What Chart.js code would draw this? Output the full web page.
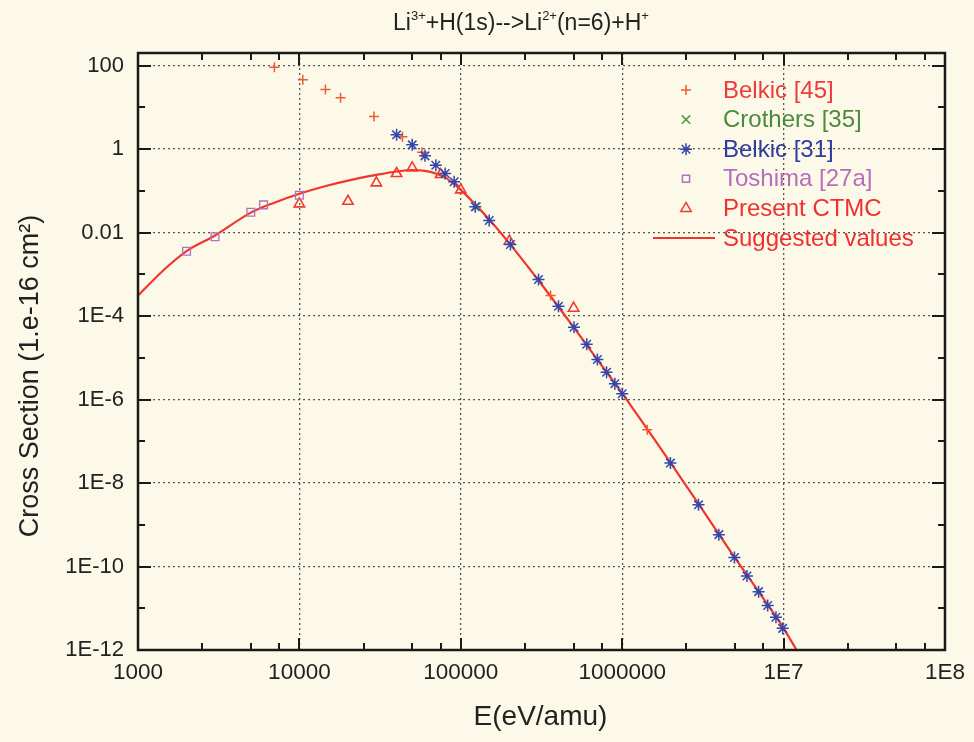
<!DOCTYPE html>
<html>
<head>
<meta charset="utf-8">
<script src="https://cdn.jsdelivr.net/npm/chart.js@4.4.1/dist/chart.umd.min.js"></script>
<style>
    body { margin: 0; background: #fdf9e9; overflow: hidden; }
    #wrap { position: relative; width: 974px; height: 742px; }
    #title {
        position: absolute; top: 9px; left: 0; width: 1042px; text-align: center;
        font: 23px "Liberation Sans", Arial, sans-serif; color: #222;
    }
    #title sup { font-size: 13px; vertical-align: 10px; line-height: 0; }
</style>
</head>
<body>
<div id="wrap">
    <div id="title">Li<sup>3+</sup>+H(1s)--&gt;Li<sup>2+</sup>(n=6)+H<sup>+</sup></div>
    <canvas id="chart" width="974" height="742"></canvas>
</div>
<script>
// axis ticks
const xTickValues = [1e3, 1e4, 1e5, 1e6, 1e7, 1e8];
const xTickLabels = ['1000', '10000', '100000', '1000000', '1E7', '1E8'];
const yTickValues = [1e-12, 1e-10, 1e-8, 1e-6, 1e-4, 1e-2, 1, 100];
const yTickLabels = ['1E-12', '1E-10', '1E-8', '1E-6', '1E-4', '0.01', '1', '100'];

// Belkic [45]
const belkic45E = [7000, 10500, 14500, 18000, 29000, 43500, 57500, 360000, 1430000];
const belkic45S = [91, 46, 26.6, 17, 6.0, 1.96, 0.84, 3.1e-4, 1.9e-7];

// Crothers [35]
const crothersE = [125000];
const crothersS = [0.042];

// Belkic [31]
const belkic31E = [40000, 50000, 60000, 70000, 80000, 91000, 123000, 150000, 203000, 303000,
    403000, 503000, 603000, 702000, 800000, 901000, 1000000, 1990000, 2970000, 3970000,
    4960000, 5930000, 7000000, 7970000, 8970000, 9870000];
const belkic31S = [2.19, 1.26, 0.687, 0.41, 0.259, 0.164, 0.0413, 0.0194, 0.00516, 7.5e-4,
    1.72e-4, 5.4e-5, 2.1e-5, 9.1e-6, 4.5e-6, 2.4e-6, 1.37e-6, 3.0e-8, 3.0e-9, 5.8e-10,
    1.64e-10, 5.9e-11, 2.5e-11, 1.16e-11, 6.1e-12, 3.3e-12];

// Toshima [27a]
const toshimaE = [2000, 3000, 5000, 6000, 10000];
const toshimaS = [3.57e-3, 7.9e-3, 0.0307, 0.046, 0.078];

// Present CTMC
const ctmcE = [10000, 20000, 30000, 40000, 50000, 75000, 100000, 200000, 500000];
const ctmcS = [0.0487, 0.056, 0.155, 0.26, 0.354, 0.245, 0.105, 6.2e-3, 1.54e-4];

// Suggested values
const suggestedE = [1000, 1500, 2000, 3000, 5000, 7000, 10000, 15000, 20000, 30000, 40000,
    50000, 60000, 70000, 80000, 90000, 100000, 150000, 200000, 300000, 500000, 700000,
    1e6, 2e6, 3e6, 5e6, 7e6, 1e7, 1.3e7];
const suggestedS = [3.1e-4, 1.45e-3, 3.6e-3, 8.5e-3, 0.03, 0.052, 0.085, 0.134, 0.176, 0.24, 0.29,
    0.315, 0.3, 0.26, 0.21, 0.15, 0.105, 0.0205, 0.0055, 7.5e-4, 5.4e-5, 9.2e-6,
    1.4e-6, 3.0e-8, 3.0e-9, 1.6e-10, 2.5e-11, 3.3e-12, 6e-13];

const legendTextColors = ['#ee3b3b', '#4b8a3e', '#2d3ca0', '#b46ebb', '#f03030', '#f03030'];

const FONT = '"Liberation Sans", Arial, sans-serif';

function toPoints(xs, ys) {
    return xs.map((x, i) => ({ x: x, y: ys[i] }));
}

// frame, inward ticks, axis titles and legend
const decorPlugin = {
    id: 'decor',
    beforeDraw(chart) {
        const ctx = chart.ctx;
        ctx.save();
        ctx.fillStyle = '#fdf9e9';
        ctx.fillRect(0, 0, chart.width, chart.height);
        ctx.restore();
    },
    afterDraw(chart) {
        const ctx = chart.ctx;
        const a = chart.chartArea;
        const xs = chart.scales.x;
        const ys = chart.scales.y;
        ctx.save();
        ctx.strokeStyle = '#1a1a1a';

        // x ticks (bottom and top)
        ctx.lineWidth = 2;
        for (let d = 1e3; d <= 1e8; d *= 10) {
            const px = Math.round(xs.getPixelForValue(d));
            ctx.beginPath();
            ctx.moveTo(px, a.bottom); ctx.lineTo(px, a.bottom - 12);
            ctx.moveTo(px, a.top); ctx.lineTo(px, a.top + 12);
            ctx.stroke();
            if (d < 1e8) {
                [2.5, 5, 7.5].forEach(m => {
                    const mx = Math.round(xs.getPixelForValue(d * m));
                    ctx.beginPath();
                    ctx.moveTo(mx, a.bottom); ctx.lineTo(mx, a.bottom - 7);
                    ctx.moveTo(mx, a.top); ctx.lineTo(mx, a.top + 7);
                    ctx.stroke();
                });
            }
        }
        // y ticks (left and right)
        for (let e = -12; e <= 2; e++) {
            const py = Math.round(ys.getPixelForValue(Math.pow(10, e)));
            const len = (e % 2 === 0) ? 13 : 7;
            ctx.beginPath();
            ctx.moveTo(a.left, py); ctx.lineTo(a.left + len, py);
            ctx.moveTo(a.right, py); ctx.lineTo(a.right - len, py);
            ctx.stroke();
        }

        // frame
        ctx.lineWidth = 2.5;
        ctx.strokeRect(a.left, a.top, a.right - a.left, a.bottom - a.top);

        // axis titles
        ctx.fillStyle = '#222';
        ctx.textAlign = 'center';
        ctx.textBaseline = 'middle';
        ctx.font = '28px ' + FONT;
        ctx.fillText('E(eV/amu)', (a.left + a.right) / 2 - 1, 717);
        ctx.save();
        ctx.translate(31, 376);
        ctx.rotate(-Math.PI / 2);
        ctx.font = '27px ' + FONT;
        ctx.fillText('Cross Section (1.e-16 cm\u00B2)', 0, 0);
        ctx.restore();

        // legend
        ctx.font = '24px ' + FONT;
        ctx.textAlign = 'left';
        chart.data.datasets.forEach((ds, i) => {
            const y = 90 + i * 29.6;
            ctx.strokeStyle = ds.borderColor;
            ctx.fillStyle = 'rgba(0,0,0,0)';
            if (ds.showLine) {
                ctx.lineWidth = 2;
                ctx.beginPath();
                ctx.moveTo(653, y); ctx.lineTo(715, y);
                ctx.stroke();
            } else {
                ctx.lineWidth = 1.5;
                Chart.helpers.drawPoint(ctx, {
                    pointStyle: ds.pointStyle,
                    radius: ds.legendRadius,
                    borderWidth: 1.5,
                    rotation: 0
                }, 686, y);
            }
            ctx.fillStyle = legendTextColors[i];
            ctx.fillText(ds.label, 723, y + 1);
        });
        ctx.restore();
    }
};

const ctx = document.getElementById('chart').getContext('2d');

new Chart(ctx, {
    type: 'scatter',
    data: {
        datasets: [
            {
                label: 'Belkic [45]',
                data: toPoints(belkic45E, belkic45S),
                pointStyle: 'cross',
                pointRadius: 5,
                legendRadius: 5,
                borderColor: '#ef5a30',
                backgroundColor: 'rgba(0,0,0,0)',
                pointBorderWidth: 1.5,
                order: 1
            },
            {
                label: 'Crothers [35]',
                data: toPoints(crothersE, crothersS),
                pointStyle: 'crossRot',
                pointRadius: 6,
                legendRadius: 6,
                borderColor: '#4f9a44',
                backgroundColor: 'rgba(0,0,0,0)',
                pointBorderWidth: 1.5,
                order: 2
            },
            {
                label: 'Belkic [31]',
                data: toPoints(belkic31E, belkic31S),
                pointStyle: 'star',
                pointRadius: 6,
                legendRadius: 6,
                borderColor: '#3446aa',
                backgroundColor: 'rgba(0,0,0,0)',
                pointBorderWidth: 1.5,
                order: 0
            },
            {
                label: 'Toshima [27a]',
                data: toPoints(toshimaE, toshimaS),
                pointStyle: 'rect',
                pointRadius: 5.5,
                legendRadius: 5,
                borderColor: '#b070c0',
                backgroundColor: 'rgba(0,0,0,0)',
                pointBorderWidth: 1.3,
                order: 3
            },
            {
                label: 'Present CTMC',
                data: toPoints(ctmcE, ctmcS),
                pointStyle: 'triangle',
                pointRadius: 6,
                legendRadius: 6,
                borderColor: '#f03a2a',
                backgroundColor: 'rgba(0,0,0,0)',
                pointBorderWidth: 1.6,
                order: 4
            },
            {
                label: 'Suggested values',
                data: toPoints(suggestedE, suggestedS),
                showLine: true,
                pointRadius: 0,
                borderColor: '#f2352a',
                borderWidth: 2.2,
                cubicInterpolationMode: 'monotone',
                order: 10
            }
        ]
    },
    options: {
        responsive: false,
        animation: false,
        layout: { padding: { top: 53, right: 26, left: 0, bottom: 0 } },
        plugins: {
            legend: { display: false },
            tooltip: { enabled: false },
            title: { display: false }
        },
        scales: {
            x: {
                type: 'logarithmic',
                min: 1e3,
                max: 1e8,
                afterBuildTicks: (scale) => {
                    scale.ticks = xTickValues.map(v => ({ value: v }));
                },
                afterFit: (scale) => { scale.height = 92; },
                border: { display: false, dash: [2, 3] },
                grid: {
                    color: '#555',
                    lineWidth: 1.3,
                    drawTicks: false
                },
                ticks: {
                    autoSkip: false,
                    maxRotation: 0,
                    padding: 9,
                    color: '#222',
                    font: { family: FONT, size: 22.5 },
                    callback: (v) => {
                        const i = xTickValues.indexOf(v);
                        return i >= 0 ? xTickLabels[i] : '';
                    }
                }
            },
            y: {
                type: 'logarithmic',
                min: 1e-12,
                max: 200,
                afterBuildTicks: (scale) => {
                    scale.ticks = yTickValues.map(v => ({ value: v }));
                },
                afterFit: (scale) => { scale.width = 138; },
                border: { display: false, dash: [2, 3] },
                grid: {
                    color: '#555',
                    lineWidth: 1.3,
                    drawTicks: false
                },
                ticks: {
                    autoSkip: false,
                    padding: 14,
                    color: '#222',
                    font: { family: FONT, size: 22 },
                    callback: (v) => {
                        const i = yTickValues.indexOf(v);
                        return i >= 0 ? yTickLabels[i] : '';
                    }
                }
            }
        }
    },
    plugins: [decorPlugin]
});
</script>
</body>
</html>
